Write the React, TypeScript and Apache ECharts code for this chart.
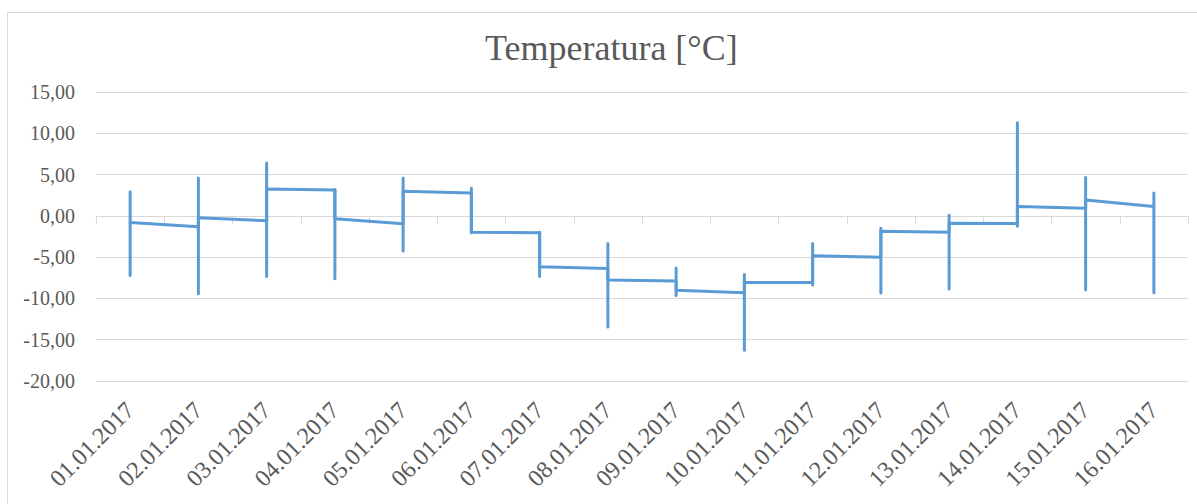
import React, { useEffect, useRef } from "react";
import * as echarts from "echarts";

const categories = [
  "01.01.2017", "02.01.2017", "03.01.2017", "04.01.2017",
  "05.01.2017", "06.01.2017", "07.01.2017", "08.01.2017",
  "09.01.2017", "10.01.2017", "11.01.2017", "12.01.2017",
  "13.01.2017", "14.01.2017", "15.01.2017", "16.01.2017",
];
// value where the line leaves each day
const openValues: (number | null)[] = [
  -0.81, -0.24, 3.26, -0.36, 2.97, -2.0, -6.16, -7.77,
  -9.02, -8.06, -4.83, -1.86, -0.89, 1.12, 1.93, null,
];
// value where the line arrives at each day
const closeValues: (number | null)[] = [
  null, -1.33, -0.6, 3.14, -0.97, 2.78, -2.05, -6.37,
  -7.9, -9.3, -8.06, -5.0, -1.98, -0.93, 0.92, 1.12,
];
const highValues = [
  2.93, 4.59, 6.4, 3.2, 4.59, 3.33, -2.0, -3.35,
  -6.32, -7.09, -3.35, -1.5, 0.07, 11.27, 4.66, 2.78,
];
const lowValues = [
  -7.21, -9.42, -7.33, -7.61, -4.27, -2.05, -7.33, -13.45,
  -9.66, -16.27, -8.38, -9.34, -8.86, -1.25, -8.94, -9.3,
];
const yTicks = { min: -20, max: 15, interval: 5 };

const TEXT = "#595959";
const GRID = "#D9D9D9";
const BLUE = "#5B9BD5";
const FONT = "'Liberation Serif', 'Times New Roman', serif";

export default function App() {
  const ref = useRef<HTMLDivElement>(null);
  useEffect(() => {
    if (!ref.current) return;
    const chart = echarts.init(ref.current, undefined, { renderer: "svg" });

    const lineData: [number, number][] = [];
    categories.forEach((_, i) => {
      const c = closeValues[i];
      const o = openValues[i];
      if (c !== null) lineData.push([i, c]);
      if (o !== null) lineData.push([i, o]);
    });
    const hlData = categories.map((_, i) => [i, highValues[i], lowValues[i]]);

    chart.setOption({
      animation: false,
      backgroundColor: "#fff",
      title: {
        text: "Temperatura [°C]",
        left: 480,
        top: 25,
        textStyle: { fontFamily: FONT, fontSize: 36, fontWeight: "normal", color: TEXT },
      },
      graphic: [
        {
          type: "rect",
          shape: { x: 7.5, y: 12.5, width: 1300, height: 600 },
          style: { fill: "none", stroke: GRID, lineWidth: 1 },
          silent: true,
        },
      ],
      grid: { left: 96, right: 9, top: 92, bottom: 123 },
      xAxis: {
        type: "category",
        data: categories,
        boundaryGap: true,
        axisLine: { lineStyle: { color: GRID, width: 1 } },
        axisTick: { show: true, length: 8, lineStyle: { color: GRID } },
        axisLabel: {
          rotate: 45,
          interval: 0,
          margin: 25,
          fontFamily: FONT,
          fontSize: 24,
          color: TEXT,
        },
        splitLine: { show: false },
      },
      yAxis: {
        type: "value",
        min: yTicks.min,
        max: yTicks.max,
        interval: yTicks.interval,
        axisLine: { show: false },
        axisTick: { show: false },
        axisLabel: {
          margin: 21,
          fontFamily: FONT,
          fontSize: 20,
          color: TEXT,
          formatter: (v: number) => v.toFixed(2).replace(".", ","),
        },
        splitLine: { lineStyle: { color: GRID, width: 1 } },
      },
      series: [
        {
          type: "custom",
          data: hlData,
          encode: { x: 0, y: [1, 2] },
          renderItem: (params: any, api: any) => {
            const top = api.coord([api.value(0), api.value(1)]);
            const bot = api.coord([api.value(0), api.value(2)]);
            return {
              type: "line",
              shape: { x1: top[0], y1: top[1], x2: bot[0], y2: bot[1] },
              style: { stroke: BLUE, lineWidth: 3, lineCap: "round" },
            };
          },
          z: 2,
        },
        {
          type: "line",
          data: lineData,
          showSymbol: false,
          symbol: "none",
          lineStyle: { color: BLUE, width: 3, cap: "round", join: "round" },
          z: 3,
        },
      ],
    });
    return () => chart.dispose();
  }, []);
  return (
    <div
      ref={ref}
      style={{ position: "absolute", left: 0, top: 0, width: 1197, height: 504 }}
    />
  );
}
